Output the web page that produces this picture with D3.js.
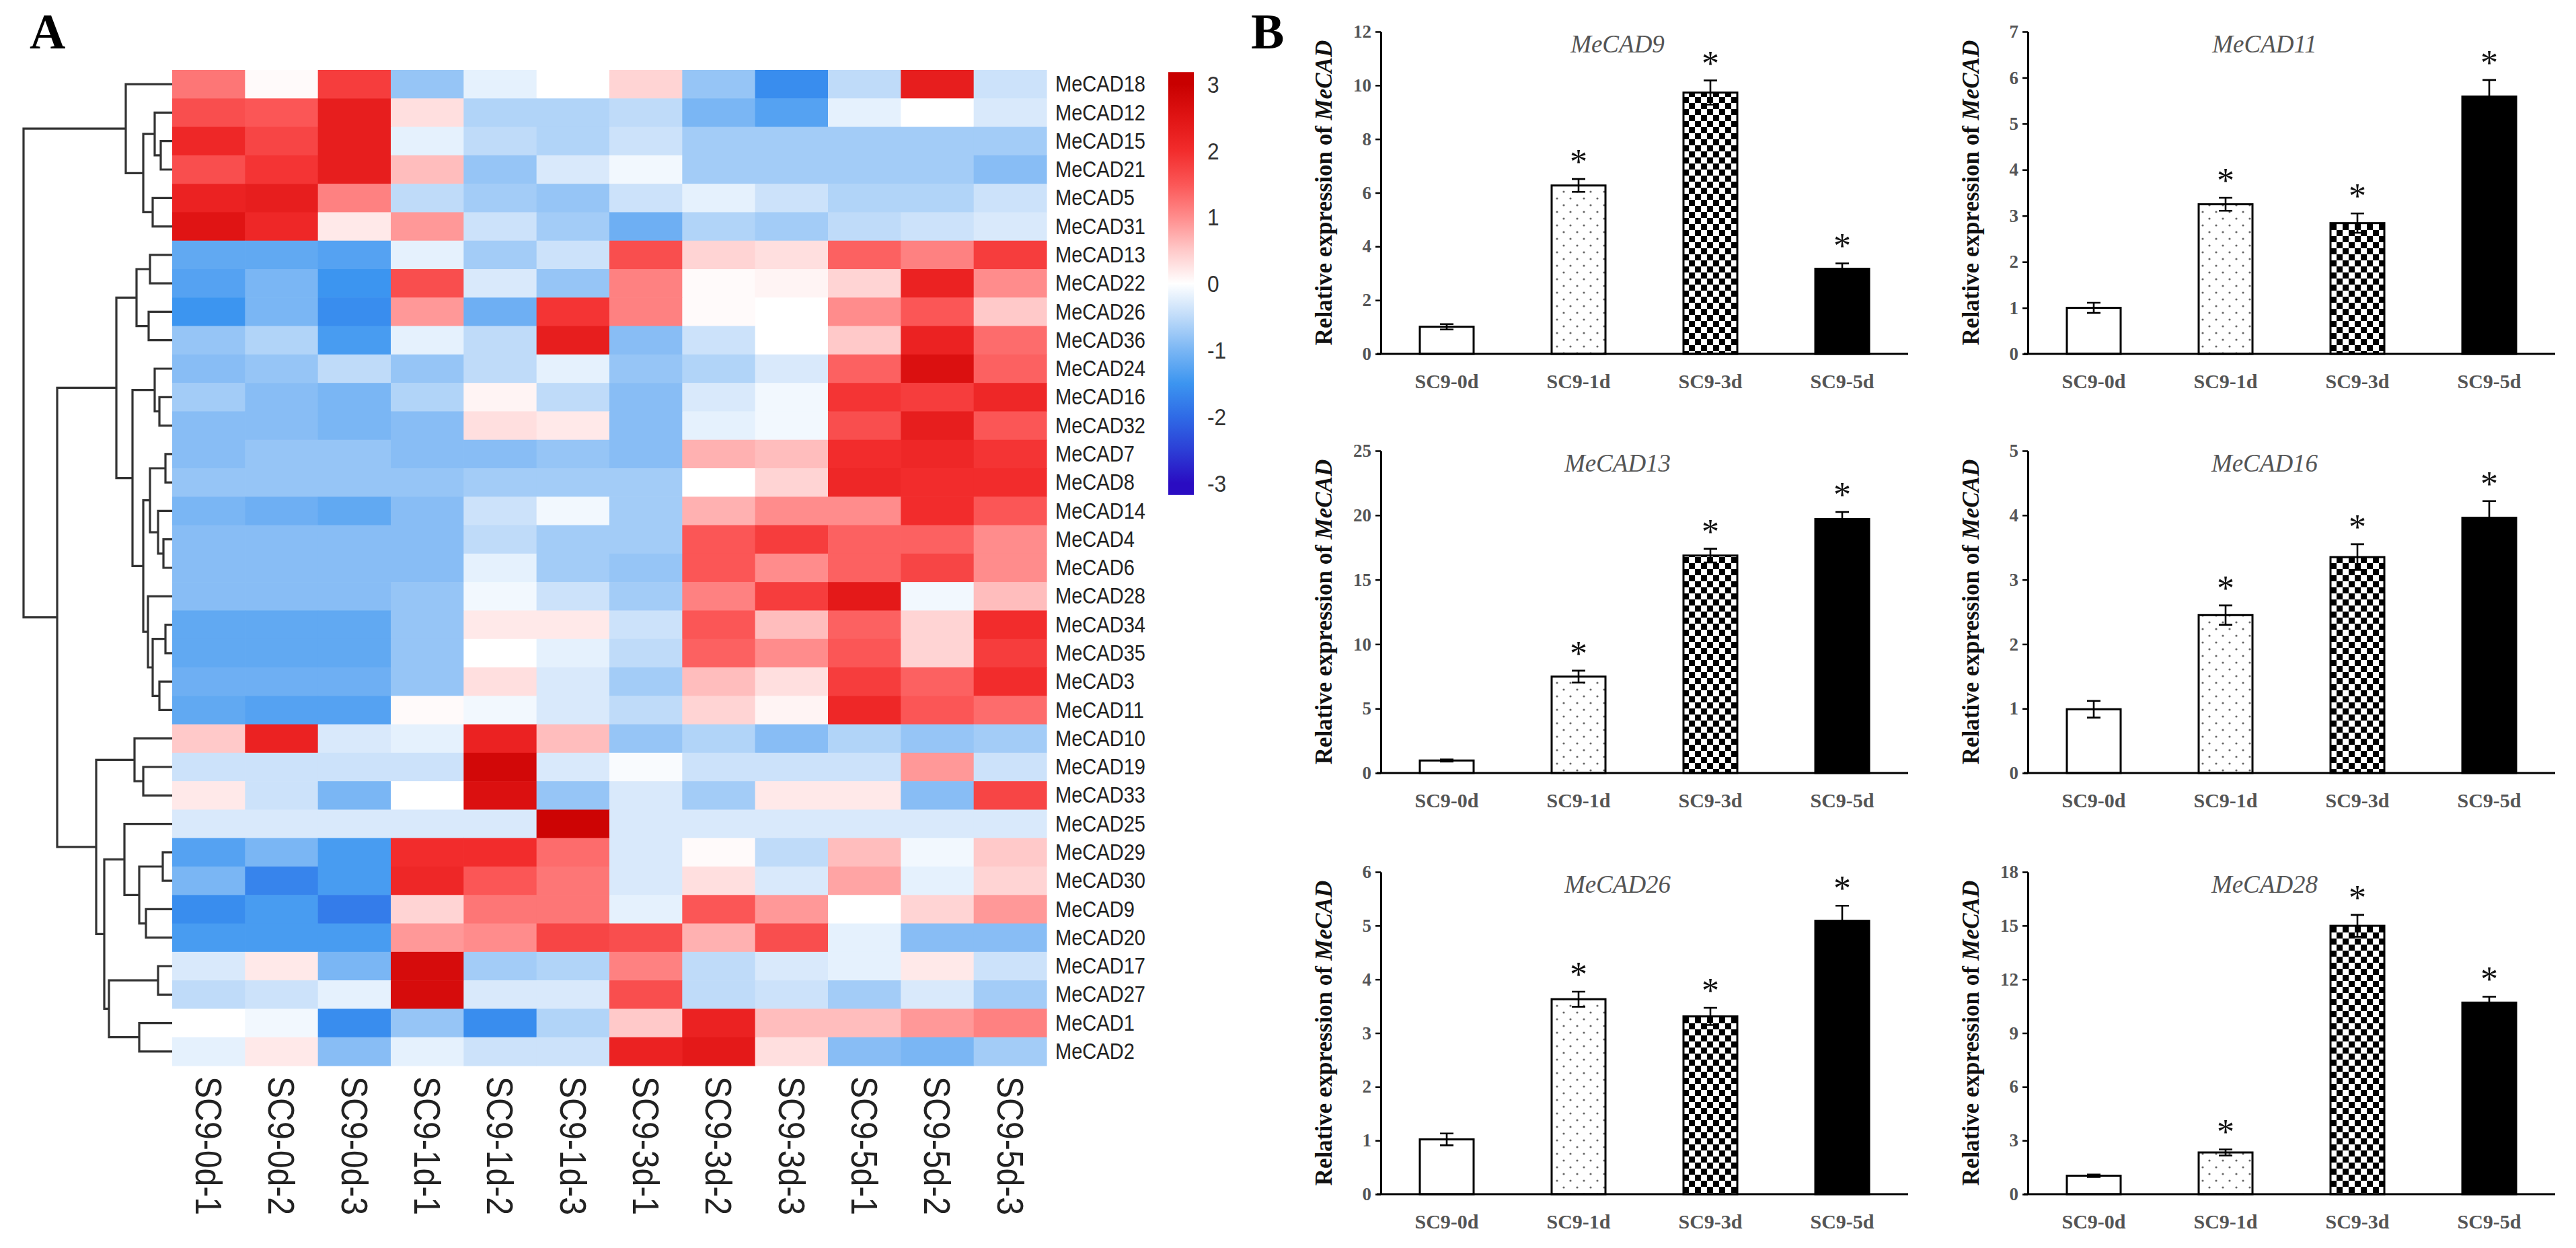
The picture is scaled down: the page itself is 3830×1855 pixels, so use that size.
<!DOCTYPE html>
<html><head><meta charset="utf-8">
<script src="https://cdn.jsdelivr.net/npm/d3@7"></script>
<style>body{margin:0;background:#fff}</style>
</head><body><svg id="fig" width="3830" height="1855" xmlns="http://www.w3.org/2000/svg"></svg>
<script>
// ---------------- Panel A data ----------------
const rowLabels = ["MeCAD18","MeCAD12","MeCAD15","MeCAD21","MeCAD5","MeCAD31","MeCAD13","MeCAD22","MeCAD26","MeCAD36","MeCAD24","MeCAD16","MeCAD32","MeCAD7","MeCAD8","MeCAD14","MeCAD4","MeCAD6","MeCAD28","MeCAD34","MeCAD35","MeCAD3","MeCAD11","MeCAD10","MeCAD19","MeCAD33","MeCAD25","MeCAD29","MeCAD30","MeCAD9","MeCAD20","MeCAD17","MeCAD27","MeCAD1","MeCAD2"];
const colLabels = ["SC9-0d-1","SC9-0d-2","SC9-0d-3","SC9-1d-1","SC9-1d-2","SC9-1d-3","SC9-3d-1","SC9-3d-2","SC9-3d-3","SC9-5d-1","SC9-5d-2","SC9-5d-3"];
const heatValues = [
 [ 1.2, 0.05, 1.8,-0.8,-0.2, 0.0, 0.4,-0.8,-1.6,-0.5, 2.3,-0.4],
 [ 1.6, 1.5, 2.3, 0.3,-0.6,-0.6,-0.5,-1.0,-1.3,-0.2, 0.0,-0.3],
 [ 2.1, 1.7, 2.3,-0.2,-0.5,-0.6,-0.4,-0.7,-0.7,-0.7,-0.7,-0.7],
 [ 1.6, 1.9, 2.3, 0.6,-0.8,-0.3,-0.1,-0.7,-0.7,-0.7,-0.7,-0.9],
 [ 2.2, 2.3, 1.1,-0.5,-0.7,-0.8,-0.4,-0.2,-0.4,-0.6,-0.6,-0.4],
 [ 2.5, 2.1, 0.2, 0.9,-0.4,-0.7,-1.1,-0.6,-0.7,-0.5,-0.4,-0.3],
 [-1.2,-1.2,-1.3,-0.2,-0.7,-0.4, 1.6, 0.4, 0.3, 1.4, 1.1, 1.8],
 [-1.3,-1.0,-1.5, 1.6,-0.3,-0.8, 1.1, 0.05,0.1, 0.4, 2.2, 1.0],
 [-1.5,-1.0,-1.6, 0.9,-1.1, 1.9, 1.1, 0.05,0.0, 1.0, 1.5, 0.5],
 [-0.8,-0.6,-1.4,-0.2,-0.5, 2.3,-0.9,-0.4, 0.0, 0.5, 2.2, 1.3],
 [-0.9,-0.8,-0.5,-0.8,-0.5,-0.2,-0.8,-0.6,-0.3, 1.4, 2.6, 1.4],
 [-0.7,-0.9,-1.0,-0.6, 0.1,-0.5,-0.9,-0.3,-0.1, 1.9, 1.8, 2.1],
 [-0.9,-0.9,-1.0,-0.9, 0.3, 0.2,-0.9,-0.2,-0.1, 1.6, 2.3, 1.5],
 [-0.9,-0.8,-0.8,-0.9,-0.9,-0.8,-0.9, 0.7, 0.6, 2.0, 2.1, 1.9],
 [-0.8,-0.8,-0.8,-0.8,-0.7,-0.7,-0.7, 0.0, 0.4, 2.1, 2.0, 2.0],
 [-1.0,-1.1,-1.2,-0.9,-0.4,-0.1,-0.7, 0.7, 1.0, 1.0, 2.0, 1.5],
 [-0.9,-0.9,-0.9,-0.9,-0.5,-0.7,-0.7, 1.5, 1.8, 1.4, 1.4, 1.0],
 [-0.9,-0.9,-0.9,-0.9,-0.2,-0.7,-0.8, 1.5, 1.0, 1.4, 1.7, 1.0],
 [-0.9,-0.9,-0.9,-0.8,-0.1,-0.4,-0.7, 1.1, 1.8, 2.4,-0.1, 0.6],
 [-1.2,-1.2,-1.2,-0.8, 0.2, 0.2,-0.4, 1.5, 0.6, 1.4, 0.4, 2.0],
 [-1.2,-1.2,-1.2,-0.8, 0.0,-0.2,-0.5, 1.4, 1.0, 1.5, 0.4, 1.8],
 [-1.1,-1.1,-1.1,-0.8, 0.3,-0.3,-0.7, 0.6, 0.3, 1.8, 1.4, 2.0],
 [-1.2,-1.3,-1.3, 0.05,-0.1,-0.3,-0.5, 0.4, 0.1, 2.1, 1.5, 1.3],
 [ 0.5, 2.2,-0.3,-0.2, 2.2, 0.6,-0.8,-0.6,-0.9,-0.6,-0.8,-0.7],
 [-0.4,-0.4,-0.4,-0.4, 2.8,-0.3,-0.05,-0.4,-0.4,-0.4, 0.9,-0.4],
 [ 0.2,-0.4,-1.0, 0.0, 2.6,-0.8,-0.3,-0.7, 0.2, 0.2,-0.9, 1.7],
 [-0.3,-0.3,-0.3,-0.3,-0.3, 2.9,-0.3,-0.3,-0.3,-0.3,-0.3,-0.3],
 [-1.3,-1.0,-1.4, 2.0, 2.0, 1.3,-0.3, 0.05,-0.5, 0.6,-0.1, 0.5],
 [-1.0,-1.7,-1.4, 2.1, 1.5, 1.2,-0.3, 0.3,-0.3, 0.8,-0.2, 0.4],
 [-1.6,-1.4,-1.8, 0.4, 1.2, 1.2,-0.2, 1.5, 0.9, 0.0, 0.4, 0.9],
 [-1.4,-1.4,-1.4, 0.9, 1.0, 1.7, 1.6, 0.7, 1.6,-0.2,-0.9,-0.9],
 [-0.3, 0.2,-1.0, 2.7,-0.7,-0.6, 1.1,-0.5,-0.3,-0.2, 0.2,-0.4],
 [-0.5,-0.4,-0.2, 2.7,-0.3,-0.3, 1.6,-0.5,-0.4,-0.7,-0.3,-0.7],
 [ 0.0,-0.1,-1.6,-0.8,-1.6,-0.6, 0.5, 2.2, 0.6, 0.6, 0.9, 1.1],
 [-0.2, 0.2,-0.9,-0.2,-0.4,-0.4, 2.2, 2.4, 0.3,-0.9,-1.0,-0.7]
];
// hclust-style merge list: negative = leaf (row number), positive = earlier merge; third = height
const merges = [
 [-3,-4,17],[-2,1,26],[-5,-6,29],[2,3,43],[-1,4,69],
 [-7,-8,33],[-9,-10,35],[6,7,53],[-12,-13,19],[-11,9,26],
 [-14,-15,10],[-17,-18,13],[-16,12,21],[11,13,33],[-20,-21,10],
 [-22,-23,19],[15,16,29],[-19,17,36],[14,18,43],[10,19,59],
 [8,20,83],[-25,-26,43],[-24,22,56],[-28,-29,14],[-30,-31,39],
 [24,25,49],[-27,26,71],[-32,-33,21],[-34,-35,49],[28,29,94],
 [27,30,101],[23,31,113],[21,32,171],[5,33,221]
];
const colorbarTicks = [3,2,1,0,-1,-2,-3];
const colorStops = [-3,-2.5,-2,-1.5,-1,-0.5,0,0.5,1,1.5,2,2.5,3];
const colorRange = ["#2a0cc2","#2c3fd6","#2f6be6","#3c95f0","#7ab6f4","#bfdbf9","#ffffff","#ffc9c9","#ff8c8c","#fb5656","#f22c2c","#e01414","#c80000"];

// ---------------- Panel B data ----------------
const barGroups = ["SC9-0d","SC9-1d","SC9-3d","SC9-5d"];
const barGenes = ["MeCAD9","MeCAD11","MeCAD13","MeCAD16","MeCAD26","MeCAD28"];
const meanMeCAD9  = [1.01, 6.27, 9.73, 3.17];
const errMeCAD9   = [0.10, 0.24, 0.45, 0.20];
const meanMeCAD11 = [1.00, 3.25, 2.84, 5.59];
const errMeCAD11  = [0.11, 0.14, 0.21, 0.36];
const meanMeCAD13 = [0.97, 7.48, 16.87, 19.70];
const errMeCAD13  = [0.08, 0.46, 0.53, 0.55];
const meanMeCAD16 = [0.99, 2.45, 3.35, 3.96];
const errMeCAD16  = [0.13, 0.15, 0.20, 0.26];
const meanMeCAD26 = [1.02, 3.63, 3.31, 5.09];
const errMeCAD26  = [0.11, 0.14, 0.16, 0.28];
const meanMeCAD28 = [1.03, 2.33, 14.99, 10.70];
const errMeCAD28  = [0.07, 0.17, 0.61, 0.33];
const ticksMeCAD9  = [0,2,4,6,8,10,12];
const ticksMeCAD11 = [0,1,2,3,4,5,6,7];
const ticksMeCAD13 = [0,5,10,15,20,25];
const ticksMeCAD16 = [0,1,2,3,4,5];
const ticksMeCAD26 = [0,1,2,3,4,5,6];
const ticksMeCAD28 = [0,3,6,9,12,15,18];
const sigStars = [false, true, true, true];

const barMeans = [meanMeCAD9, meanMeCAD11, meanMeCAD13, meanMeCAD16, meanMeCAD26, meanMeCAD28];
const barErrs  = [errMeCAD9, errMeCAD11, errMeCAD13, errMeCAD16, errMeCAD26, errMeCAD28];
const barTicks = [ticksMeCAD9, ticksMeCAD11, ticksMeCAD13, ticksMeCAD16, ticksMeCAD26, ticksMeCAD28];

// ---------------- Drawing ----------------
const SERIF = "'Liberation Serif','Times New Roman',serif";
const SANS = "'Liberation Sans',Arial,Helvetica,sans-serif";
const svg = d3.select("#fig");
svg.append("rect").attr("width",3830).attr("height",1855).attr("fill","#fff");
const defs = svg.append("defs");

// Panel letters
svg.append("text").attr("x",44).attr("y",72).attr("font-family",SERIF).attr("font-weight","bold")
  .attr("font-size",74).text("A");
svg.append("text").attr("x",1860).attr("y",72).attr("font-family",SERIF).attr("font-weight","bold")
  .attr("font-size",74).text("B");

// Heatmap
const hx = d3.scaleBand().domain(colLabels).range([256,1556]);
const hy = d3.scaleBand().domain(rowLabels).range([104,1584]);
const color = d3.scaleLinear().domain(colorStops).range(colorRange).clamp(true);
const gHeat = svg.append("g");
heatValues.forEach((row,i)=>{
  gHeat.selectAll(null).data(row).enter().append("rect")
    .attr("x",(d,j)=>hx(colLabels[j])).attr("y",hy(rowLabels[i]))
    .attr("width",hx.bandwidth()+0.6).attr("height",hy.bandwidth()+0.6)
    .attr("fill",d=>color(d));
});
// row labels
svg.append("g").selectAll("g").data(rowLabels).enter().append("g")
  .attr("transform",d=>`translate(1569,${hy(d)+hy.bandwidth()/2}) scale(0.88,1)`)
  .append("text").attr("dominant-baseline","central").attr("font-family",SANS)
  .attr("font-size",33).attr("fill","#222").text(d=>d);
// column labels
svg.append("g").selectAll("g").data(colLabels).enter().append("g")
  .attr("transform",d=>`translate(${hx(d)+hx.bandwidth()/2},1600) rotate(90) scale(0.86,1)`)
  .append("text").attr("dominant-baseline","central").attr("font-family",SANS)
  .attr("font-size",56).attr("fill","#222").text(d=>d);

// Dendrogram
const dx = d3.scaleLinear().domain([0,221]).range([256,35]);
const nodes = [];
const pos = c => c<0 ? {x:dx(0), y:hy(rowLabels[-c-1])+hy.bandwidth()/2} : nodes[c-1];
const gDen = svg.append("g").attr("fill","none").attr("stroke","#333").attr("stroke-width",3.2);
merges.forEach(m=>{
  const a = pos(m[0]), b = pos(m[1]);
  const nx = dx(m[2]);
  nodes.push({x:nx, y:(a.y+b.y)/2});
  gDen.append("path").attr("d",`M${a.x},${a.y}H${nx}V${b.y}H${b.x}`);
});

// Colorbar
const cbY = d3.scaleLinear().domain([-3,3]).range([718,125]);
const cbMax = 3.18;
const grad = defs.append("linearGradient").attr("id","cbgrad")
  .attr("x1",0).attr("y1",0).attr("x2",0).attr("y2",1);
colorStops.slice().reverse().forEach((v,i)=>{
  grad.append("stop").attr("offset",((cbMax - v)/(2*cbMax))).attr("stop-color",color(v));
});
svg.append("rect").attr("x",1737).attr("y",cbY(cbMax)).attr("width",38)
  .attr("height",cbY(-cbMax)-cbY(cbMax)).attr("fill","url(#cbgrad)");
svg.append("g").selectAll("g").data(colorbarTicks).enter().append("g")
  .attr("transform",d=>`translate(1795,${cbY(d)}) scale(0.88,1)`)
  .append("text").attr("dominant-baseline","central").attr("font-family",SANS)
  .attr("font-size",36).attr("fill","#333").text(d=>d<0?"-"+Math.abs(d):d);

// Patterns
const pDots = defs.append("pattern").attr("id","dots").attr("patternUnits","userSpaceOnUse")
  .attr("width",20).attr("height",20);
pDots.append("rect").attr("width",20).attr("height",20).attr("fill","#fff");
pDots.append("circle").attr("cx",5).attr("cy",5).attr("r",1.6).attr("fill","#666");
pDots.append("circle").attr("cx",15).attr("cy",15).attr("r",1.6).attr("fill","#666");
const pChk = defs.append("pattern").attr("id","checks").attr("patternUnits","userSpaceOnUse")
  .attr("width",18).attr("height",18);
pChk.append("rect").attr("width",18).attr("height",18).attr("fill","#fff");
pChk.append("rect").attr("width",9).attr("height",9).attr("fill","#000");
pChk.append("rect").attr("x",9).attr("y",9).attr("width",9).attr("height",9).attr("fill","#000");
const barFills = ["#fff","url(#dots)","url(#checks)","#000"];

// Bar panels
const colX = [2053, 3015];
const rowTop = [47, 670, 1296];
const rowZero = [526, 1149, 1775];
const axisW = 784;

barGenes.forEach((gene,k)=>{
  const c = k%2, r = Math.floor(k/2);
  const x0 = colX[c], top = rowTop[r], zero = rowZero[r];
  const ticks = barTicks[k];
  const yS = d3.scaleLinear().domain([0, ticks[ticks.length-1]]).range([zero, top]);
  const xS = d3.scaleBand().domain(barGroups).range([x0, x0+axisW]);
  const bw = 80;
  const g = svg.append("g");

  // y axis
  const ya = g.append("g").attr("transform",`translate(${x0},0)`)
    .call(d3.axisLeft(yS).tickValues(ticks).tickSize(8).tickSizeOuter(0).tickPadding(6).tickFormat(d3.format("d")));
  ya.select(".domain").attr("stroke","#000").attr("stroke-width",3);
  ya.selectAll(".tick line").attr("stroke","#000").attr("stroke-width",2.5);
  ya.selectAll(".tick text").attr("font-family",SERIF).attr("font-size",27)
    .attr("font-weight","bold").attr("fill","#555");

  // bars
  const means = barMeans[k], errs = barErrs[k];
  g.selectAll("rect.bar").data(means).enter().append("rect").attr("class","bar")
    .attr("x",(d,i)=>xS(barGroups[i])+xS.bandwidth()/2-bw/2)
    .attr("y",d=>yS(d)).attr("width",bw).attr("height",d=>zero-yS(d))
    .attr("fill",(d,i)=>barFills[i]).attr("stroke","#000").attr("stroke-width",3);

  // x axis line
  g.append("line").attr("x1",x0-6).attr("x2",x0+axisW).attr("y1",zero).attr("y2",zero)
    .attr("stroke","#000").attr("stroke-width",3);

  // error bars, stars, category labels
  means.forEach((m,i)=>{
    const cx = xS(barGroups[i])+xS.bandwidth()/2;
    const e = errs[i];
    g.append("path").attr("d",`M${cx},${yS(m-e)}V${yS(m+e)}M${cx-10},${yS(m+e)}H${cx+10}M${cx-10},${yS(m-e)}H${cx+10}`)
      .attr("stroke","#000").attr("stroke-width",2.6).attr("fill","none");
    if (sigStars[i]) {
      g.append("text").attr("x",cx).attr("y",yS(m+e)-8).attr("text-anchor","middle")
        .attr("font-family",SERIF).attr("font-size",52).attr("fill","#111").text("*");
    }
    g.append("text").attr("x",cx).attr("y",zero+51).attr("text-anchor","middle")
      .attr("font-family",SERIF).attr("font-weight","bold").attr("font-size",30)
      .attr("fill","#555").text(barGroups[i]);
  });

  // title
  g.append("text").attr("x",x0+352).attr("y",top+31).attr("text-anchor","middle")
    .attr("font-family",SERIF).attr("font-style","italic").attr("font-size",37)
    .attr("fill","#555").text(gene);

  // y label
  const yl = g.append("text").attr("transform",`translate(${x0-73},${(top+zero)/2}) rotate(-90)`)
    .attr("text-anchor","middle").attr("font-family",SERIF).attr("font-weight","bold")
    .attr("font-size",35).attr("fill","#111");
  yl.append("tspan").text("Relative expression of ");
  yl.append("tspan").attr("font-style","italic").text("MeCAD");
});
</script>
</body></html>
